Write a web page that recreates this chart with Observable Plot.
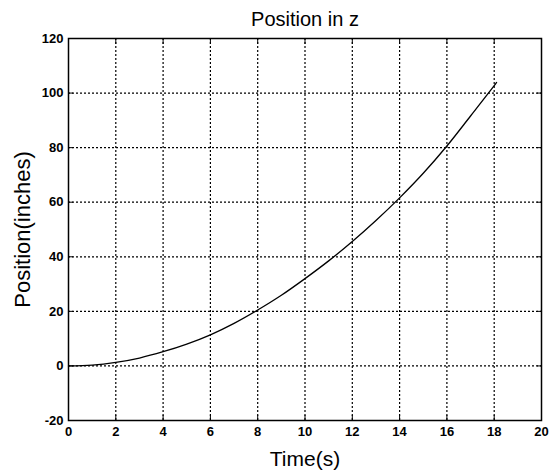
<!DOCTYPE html>
<html>
<head>
<meta charset="utf-8">
<script src="https://cdn.jsdelivr.net/npm/d3@7"></script>
<script src="https://cdn.jsdelivr.net/npm/@observablehq/plot@0.6"></script>
<style>
  html, body { margin: 0; padding: 0; background: #fff; }
  svg { display: block; }
</style>
</head>
<body>
<div id="chart"></div>
<script>
const times = [0, 1, 2, 3, 4, 5, 6, 7, 8, 9, 10, 11, 12, 13, 14, 15, 16, 17, 18, 18.1];
const positions = [0, 0.3, 1.3, 2.9, 5.2, 8.0, 11.4, 15.6, 20.5, 25.9, 32.0, 38.5, 45.6, 53.3, 61.6, 70.6, 80.6, 91.6, 102.7, 103.9];
const xTicks = [0, 2, 4, 6, 8, 10, 12, 14, 16, 18, 20];
const yTicks = [-20, 0, 20, 40, 60, 80, 100, 120];
const titleText = "Position in z";
const xLabel = "Time(s)";
const yLabel = "Position(inches)";

const data = times.map((t, i) => ({t, z: positions[i]}));
const font = "Liberation Sans, Arial, Helvetica, sans-serif";

const chart = Plot.plot({
  width: 555,
  height: 473,
  marginLeft: 68,
  marginRight: 14,
  marginTop: 38,
  marginBottom: 53,
  style: {fontFamily: font, color: "#000", background: "#fff"},
  x: {domain: [0, 20]},
  y: {domain: [-20, 120]},
  marks: [
    Plot.ruleX(xTicks.slice(1, -1), {stroke: "#000", strokeWidth: 1.2, strokeDasharray: "2,2"}),
    Plot.ruleY(yTicks.slice(1, -1), {stroke: "#000", strokeWidth: 1.2, strokeDasharray: "2,2"}),
    Plot.axisX({ticks: xTicks, tickSize: -5, tickPadding: 11, fontSize: 13, fontWeight: "bold", label: null, tickFormat: d => String(d)}),
    Plot.axisX({ticks: xTicks, anchor: "top", tickSize: -5, tickFormat: () => "", label: null}),
    Plot.axisY({ticks: yTicks, tickSize: -5, tickPadding: 10, fontSize: 13, fontWeight: "bold", label: null, tickFormat: d => String(d)}),
    Plot.axisY({ticks: yTicks, anchor: "right", tickSize: -5, tickFormat: () => "", label: null}),
    Plot.frame({stroke: "#000", strokeWidth: 1.5}),
    Plot.line(data, {x: "t", y: "z", stroke: "#000", strokeWidth: 1.3, curve: "catmull-rom"}),
    Plot.text([titleText], {frameAnchor: "top", dy: -13, lineAnchor: "bottom", fontSize: 20, fill: "#000"}),
    Plot.text([xLabel], {frameAnchor: "bottom", dy: 45, lineAnchor: "bottom", fontSize: 21, fill: "#000"}),
    Plot.text([yLabel], {frameAnchor: "left", dx: -46, rotate: -90, textAnchor: "middle", lineAnchor: "middle", fontSize: 22, fill: "#000"})
  ]
});
document.getElementById("chart").appendChild(chart);
</script>
</body>
</html>
